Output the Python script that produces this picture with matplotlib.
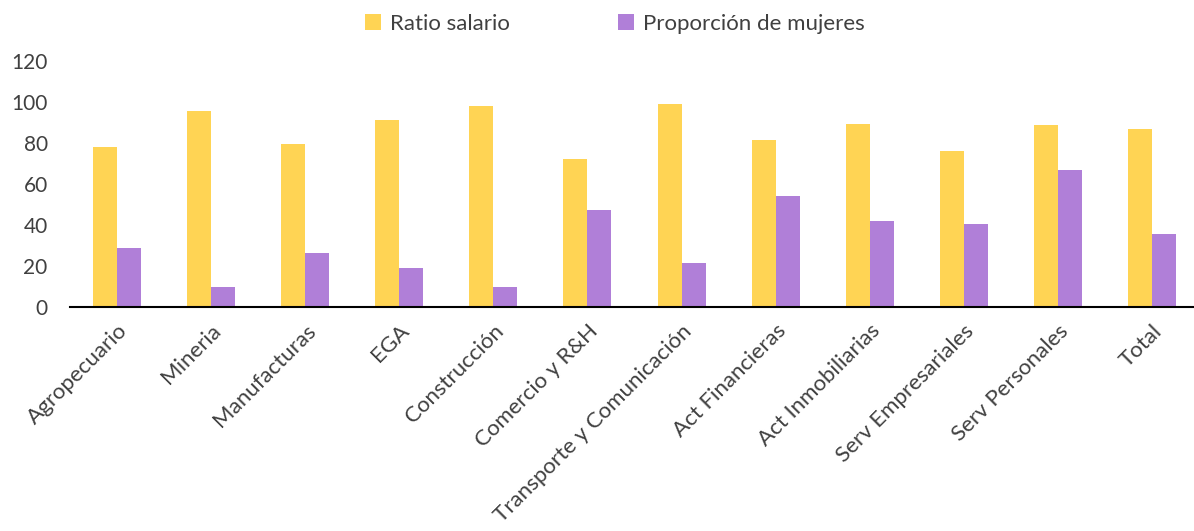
import numpy as np
import matplotlib.pyplot as plt

plt.rcParams['font.family'] = ['Lato', 'DejaVu Sans']

sectores = ["Agropecuario", "Mineria", "Manufacturas", "EGA", "Construcción",
            "Comercio y R&H", "Transporte y Comunicación", "Act Financieras",
            "Act Inmobiliarias", "Serv Empresariales", "Serv Personales", "Total"]
ratio_salario = [78, 95.5, 79.5, 91, 98, 72, 99, 81.5, 89.3, 76, 88.6, 86.7]
prop_mujeres = [28.8, 9.8, 26.3, 19.2, 9.8, 47.5, 21.2, 54.3, 41.8, 40.3, 66.7, 35.6]

fig = plt.figure(figsize=(11.94, 5.31), dpi=100)
ax = fig.add_axes([0.0586, 0.422, 0.9456, 0.463])

x = np.arange(len(sectores))
w = 0.255
ax.bar(x - w/2, ratio_salario, w, color='#FFD454', label='Ratio salario')
ax.bar(x + w/2, prop_mujeres, w, color='#B07FD8', label='Proporción de mujeres')

ax.set_xlim(-0.5, len(sectores) - 0.5)
ax.set_ylim(0, 120)
ax.set_yticks(range(0, 121, 20))
ax.set_xticks(x)
ax.set_xticklabels(sectores, rotation=45, ha='right', rotation_mode='anchor')
ax.tick_params(axis='both', length=0, labelsize=15, colors='#404040')
ax.tick_params(axis='x', pad=10, labelsize=16)
ax.tick_params(axis='y', pad=16)
for s in ['top', 'right', 'left']:
    ax.spines[s].set_visible(False)
ax.spines['bottom'].set_color('black')
ax.spines['bottom'].set_linewidth(1.5)

fig.legend(loc='upper center', bbox_to_anchor=(0.515, 1.012), ncol=2, frameon=False,
           fontsize=16, handlelength=0.7, handleheight=0.7, handletextpad=0.4,
           columnspacing=4.9, labelcolor='#404040')

fig.savefig('out.png', dpi=100)
